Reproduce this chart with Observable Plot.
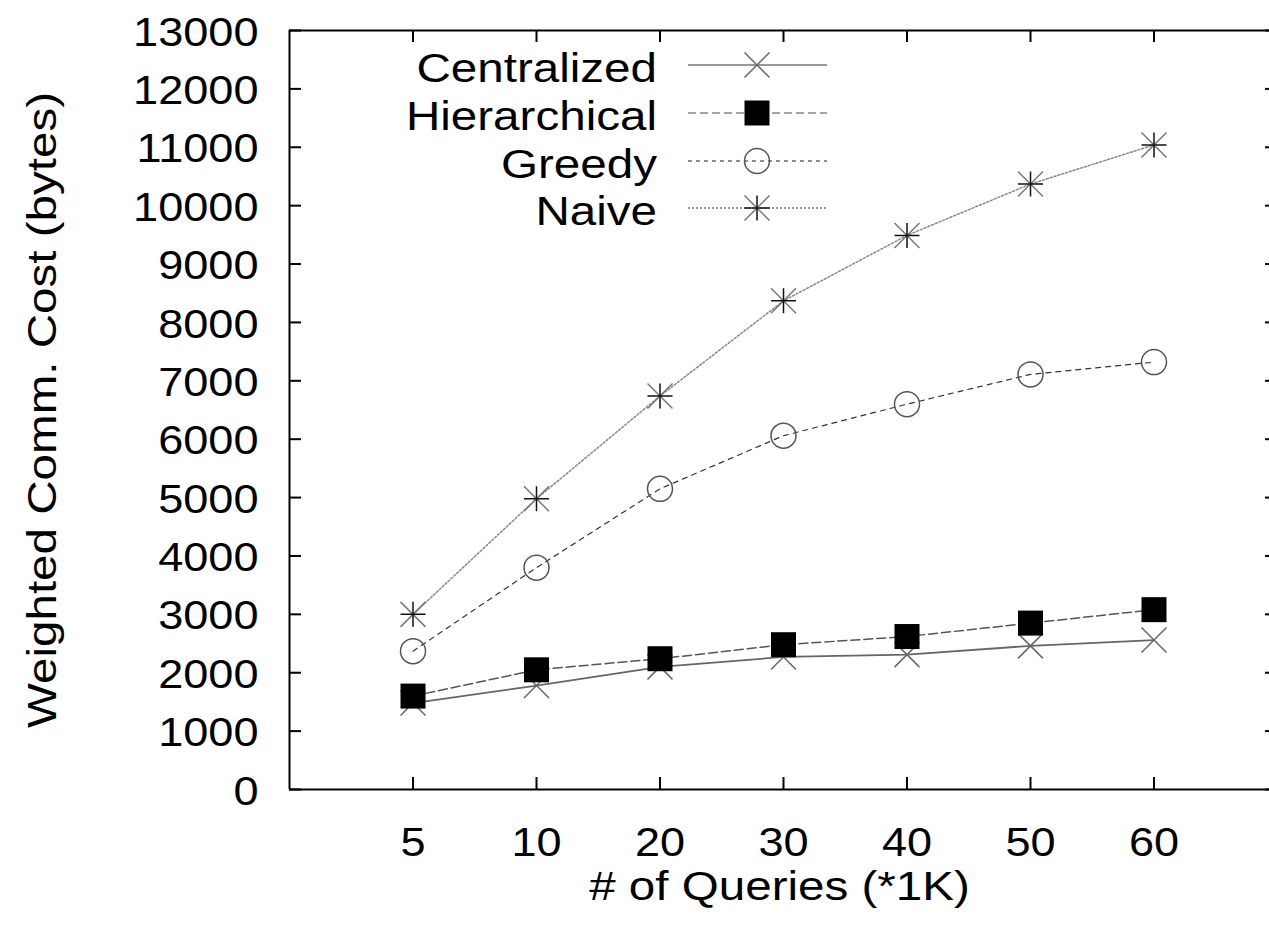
<!DOCTYPE html>
<html><head><meta charset="utf-8">
<script src="https://cdn.jsdelivr.net/npm/d3@7"></script>
<script src="https://cdn.jsdelivr.net/npm/@observablehq/plot@0.6"></script>
<style>
html,body{margin:0;padding:0;background:#fff;overflow:hidden;}
</style></head><body><div id="chart"></div>
<script>
// ---- data ----
const queries = [5, 10, 20, 30, 40, 50, 60];
const seriesNames = ["Centralized", "Hierarchical", "Greedy", "Naive"];
const centralized = [1480, 1780, 2100, 2270, 2310, 2460, 2560];
const hierarchical = [1600, 2050, 2240, 2480, 2620, 2850, 3080];
const greedy = [2370, 3800, 5150, 6060, 6600, 7110, 7320];
const naive = [3000, 4980, 6740, 8370, 9490, 10370, 11040];
const yTicks = d3.range(0, 13001, 1000);
const xTitle = "# of Queries (*1K)";
const yTitle = "Weighted Comm. Cost (bytes)";

const seriesValues = [centralized, hierarchical, greedy, naive];
const idx = d3.range(queries.length);

// ---- symbols ----
const rad = s => Math.sqrt(s / Math.PI);
const symTimes = {draw(c, s) { const r = rad(s); c.moveTo(-r, -r); c.lineTo(r, r); c.moveTo(-r, r); c.lineTo(r, -r); }};
const symPlus = {draw(c, s) { const r = rad(s); c.moveTo(0, -r); c.lineTo(0, r); c.moveTo(-r, 0); c.lineTo(r, 0); }};
const symSquare = {draw(c, s) { const r = rad(s); c.rect(-r, -r, 2 * r, 2 * r); }};
const symCircle = {draw(c, s) { const r = rad(s); c.moveTo(r, 0); c.arc(0, 0, r, 0, 2 * Math.PI); }};

const styles = [
  {line: {stroke: "#666", strokeWidth: 1.8}, legendLine: {stroke: "#999", width: 2, dash: null},
   dots: [{symbol: symTimes, stroke: "#666", fill: "none", strokeWidth: 1.5}]},
  {line: {stroke: "#555", strokeWidth: 1.5, strokeDasharray: "9,4"}, legendLine: {stroke: "#888", width: 1.5, dash: "8,4"},
   dots: [{symbol: symSquare, stroke: "none", fill: "#000"}]},
  {line: {stroke: "#333", strokeWidth: 1.2, strokeDasharray: "5,5"}, legendLine: {stroke: "#222", width: 1.2, dash: "4,4"},
   dots: [{symbol: symCircle, stroke: "#555", fill: "none", strokeWidth: 1.5}]},
  {line: {stroke: "#888", strokeWidth: 1.5, strokeDasharray: "2,2"}, legendLine: {stroke: "#777", width: 1.5, dash: "2,2"},
   dots: [{symbol: symTimes, stroke: "#777", fill: "none", strokeWidth: 1.5},
          {symbol: symPlus, stroke: "#111", fill: "none", strokeWidth: 1.5}]}
];

const rows = [];
seriesNames.forEach((name, s) => idx.forEach(i => rows.push({series: name, i, q: queries[i], value: seriesValues[s][i]})));

const W = 1269, H = 933, mL = 289, mT = 30, mB = 144, mR = 0;
const frameW = W - mL - mR, frameH = H - mT - mB;
const FS = 41;

const marks = [
  // frame
  Plot.ruleY([0, 13000], {y: d => d, stroke: "#000", strokeWidth: 2}),
  Plot.ruleX([-1, 7], {x: d => d, stroke: "#000", strokeWidth: 2}),
  // mirrored inward ticks
  Plot.tickX(idx, {x: d => d, insetTop: frameH - 12, stroke: "#000", strokeWidth: 2}),
  Plot.tickX(idx, {x: d => d, insetBottom: frameH - 12, stroke: "#000", strokeWidth: 2}),
  Plot.tickY(yTicks, {y: d => d, insetRight: frameW - 12, stroke: "#000", strokeWidth: 2}),
  Plot.tickY(yTicks, {y: d => d, insetLeft: frameW - 4, stroke: "#000", strokeWidth: 2}),
  // axes labels
  Plot.axisY({ticks: yTicks, tickSize: 0, tickPadding: 31, tickFormat: d3.format("d"), fontSize: FS, label: null, dy: 2, fill: "#000"}),
  Plot.axisX({ticks: idx, tickSize: 0, tickPadding: 37, tickFormat: i => queries[i], fontSize: FS, label: null, fill: "#000"}),
  Plot.text([xTitle], {frameAnchor: "bottom", text: d => d, dy: 110, fontSize: FS, fill: "#000"}),
  Plot.text([yTitle], {frameAnchor: "left", text: d => d, rotate: -90, dx: -247, textAnchor: "middle", fontSize: FS, fill: "#000"})
];

seriesNames.forEach((name, s) => {
  const data = rows.filter(r => r.series === name);
  marks.push(Plot.line(data, {x: "i", y: "value", ...styles[s].line}));
  styles[s].dots.forEach(d => marks.push(Plot.dot(data, {x: "i", y: "value", r: 12.5, ...d})));
});

const plot = Plot.plot({
  width: W, height: H,
  marginLeft: mL, marginTop: mT, marginBottom: mB, marginRight: mR,
  style: {fontFamily: "'Liberation Sans', Arial, Helvetica, sans-serif", fontSize: FS + "px", background: "#fff", color: "#000", overflow: "hidden"},
  x: {type: "linear", domain: [-1, 7], range: [mL, mL + 8 * 123.5]},
  y: {type: "linear", domain: [0, 13000], range: [H - mB, mT]},
  marks
});
document.getElementById("chart").appendChild(plot);

// ---- legend (inside the frame, top) ----
const svg = d3.select(plot);
const lg = svg.append("g").attr("class", "legend");
const rowY = [65, 113, 161, 208];
const textRight = 657, lineX1 = 688, lineX2 = 827, symX = 757;
seriesNames.forEach((name, s) => {
  const y = rowY[s];
  lg.append("text").attr("x", textRight).attr("y", y).attr("dy", 17)
    .attr("text-anchor", "end").attr("font-size", FS).attr("fill", "#000").text(name);
  const L = styles[s].legendLine;
  lg.append("line").attr("x1", lineX1).attr("x2", lineX2).attr("y1", y).attr("y2", y)
    .attr("stroke", L.stroke).attr("stroke-width", L.width).attr("stroke-dasharray", L.dash);
  styles[s].dots.forEach(d => {
    lg.append("path").attr("transform", `translate(${symX},${y})`)
      .attr("d", d3.symbol(d.symbol, 12.5 * 12.5 * Math.PI)())
      .attr("fill", d.fill).attr("stroke", d.stroke).attr("stroke-width", d.strokeWidth || 1);
  });
});

// ---- slight horizontal stretch of text to match the original typeface proportions ----
svg.selectAll("text").each(function() {
  const t = this;
  const isNum = /^\d+$/.test(t.textContent.trim());
  const f = isNum ? 1.10 : 1.16;
  const len = t.getComputedTextLength();
  if (len > 0) { t.setAttribute("textLength", len * f); t.setAttribute("lengthAdjust", "spacingAndGlyphs"); }
});
</script></body></html>
